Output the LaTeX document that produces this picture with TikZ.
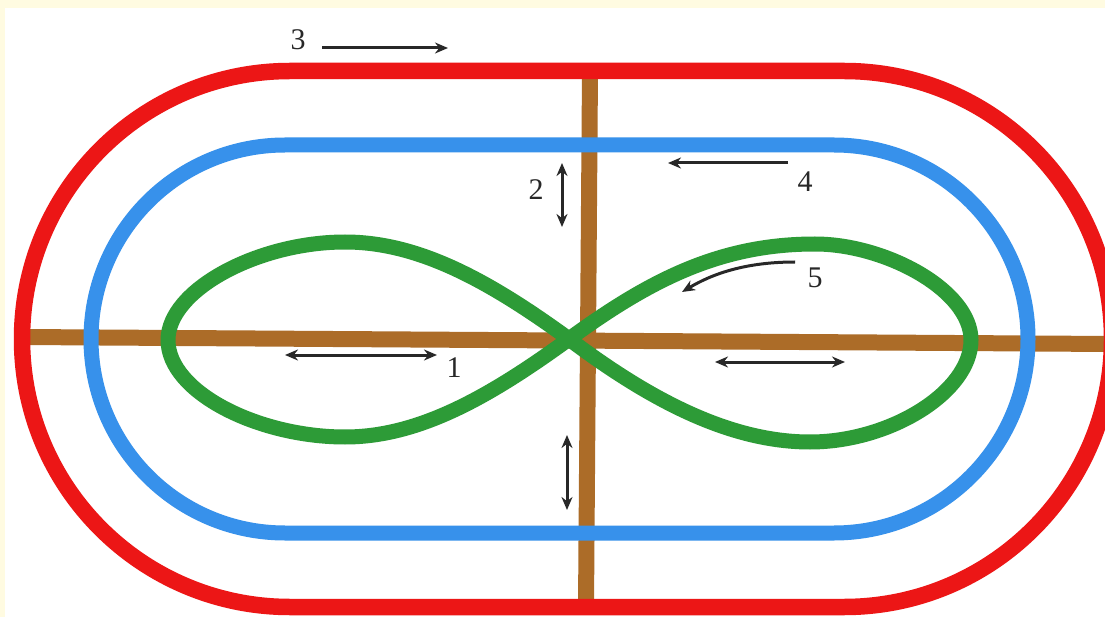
\documentclass[tikz,border=0pt]{standalone}
\usepackage{fontspec}
\setmainfont{Liberation Serif}
\usetikzlibrary{arrows.meta}
\definecolor{cream}{RGB}{255,251,225}
\definecolor{trackred}{RGB}{236,22,22}
\definecolor{trackblue}{RGB}{55,145,235}
\definecolor{trackgreen}{RGB}{45,155,55}
\definecolor{trackbrown}{RGB}{172,108,40}
\definecolor{arrowgray}{RGB}{40,40,40}
\tikzset{
  redtrack/.style={draw=trackred, line width=16.5pt},
  bluetrack/.style={draw=trackblue, line width=15pt},
  greentrack/.style={draw=trackgreen, line width=15pt, line join=round},
  browntrack/.style={draw=trackbrown, line width=16pt},
  onearrow/.style={draw=arrowgray, line width=3pt, -{Stealth[length=13pt,width=11pt]}},
  twoarrow/.style={draw=arrowgray, line width=3pt, {Stealth[length=13pt,width=11pt]}-{Stealth[length=13pt,width=11pt]}},
  lbl/.style={text=arrowgray, font=\fontsize{30}{32}\selectfont, inner sep=0pt}
}
\begin{document}
\begin{tikzpicture}[x=1pt,y=-1pt]
\useasboundingbox (0,0) rectangle (1105,617);
\fill[cream] (0,0) rectangle (1105,617);
\fill[white] (5,8) rectangle (1105,617);
\begin{scope}
\clip (0,0) rectangle (1105,617);
% brown cross lines
\coordinate (hl) at (22,337);
\coordinate (hr) at (1110,344);
\coordinate (vt) at (590,71);
\coordinate (vb) at (586,607);
\draw[browntrack] (hl) -- (hr);
\draw[browntrack] (vt) -- (vb);
% blue oval
\draw[bluetrack, rounded corners=194pt] (91,145) rectangle (1028,533);
% green figure eight
\coordinate (c)  at (569,339);
\coordinate (tr) at (815,244);
\coordinate (rr) at (971,340);
\coordinate (br) at (810,442);
\coordinate (tl) at (345,242);
\coordinate (ll) at (168,340);
\coordinate (bl) at (345,437);
\draw[greentrack] (c) .. controls (650,280) and (720,244) .. (tr)
  .. controls (885,244) and (971,290) .. (rr)
  .. controls (971,392) and (890,442) .. (br)
  .. controls (730,442) and (650,400) .. (c)
  .. controls (488,280) and (418,242) .. (tl)
  .. controls (258,242) and (168,290) .. (ll)
  .. controls (168,392) and (258,437) .. (bl)
  .. controls (418,437) and (488,398) .. (c) -- cycle;
% red oval
\draw[redtrack, rounded corners=268pt] (22,71) rectangle (1112,607);
\end{scope}
% arrows
\coordinate (a3s) at (322,48);   \coordinate (a3e) at (448,48);
\coordinate (a4s) at (788,163);  \coordinate (a4e) at (668,163);
\coordinate (a5s) at (795,262);  \coordinate (a5e) at (682,292);
\coordinate (a2s) at (562,163);  \coordinate (a2e) at (562,227);
\coordinate (a1s) at (285,355);  \coordinate (a1e) at (437,355);
\coordinate (ars) at (715,362);  \coordinate (are) at (845,362);
\coordinate (avs) at (567,435);  \coordinate (ave) at (567,510);
\draw[onearrow] (a3s) -- (a3e);
\draw[onearrow] (a4s) -- (a4e);
\draw[onearrow] (a5s) .. controls (745,262) and (712,274) .. (a5e);
\draw[twoarrow] (a2s) -- (a2e);
\draw[twoarrow] (a1s) -- (a1e);
\draw[twoarrow] (ars) -- (are);
\draw[twoarrow] (avs) -- (ave);
% labels
\node[lbl] (l3) at (298,40) {3};
\node[lbl] (l2) at (536,190) {2};
\node[lbl] (l4) at (805,182) {4};
\node[lbl] (l5) at (815,278) {5};
\node[lbl] (l1) at (454,368) {1};
\end{tikzpicture}
\end{document}
